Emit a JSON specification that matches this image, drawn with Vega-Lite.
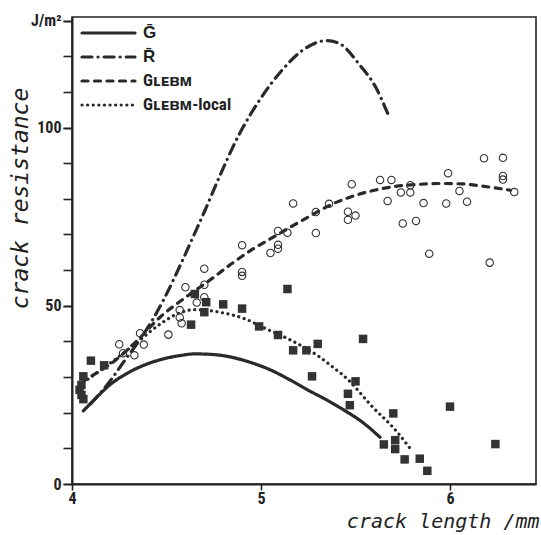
{
  "$schema": "https://vega.github.io/schema/vega-lite/v6.json",
  "width": 464,
  "height": 467,
  "autosize": {"type": "none"},
  "padding": {"left": 72, "top": 17, "right": 5, "bottom": 51},
  "background": "white",
  "config": {
    "view": {"stroke": "#222", "strokeWidth": 1.6},
    "axis": {
      "domainColor": "#222", "domainWidth": 2, "tickColor": "#222", "tickWidth": 1.6, "grid": false,
      "labelColor": "#222", "titleColor": "#222",
      "labelFont": "Liberation Sans Narrow, Roboto Condensed, Roboto, sans-serif", "labelFontWeight": "bold", "labelFontSize": 16,
      "titleFont": "DejaVu Sans Mono", "titleFontStyle": "italic", "titleFontWeight": "normal", "titleFontSize": 21
    }
  },
  "resolve": {"axis": {"y": "independent"}},
  "datasets": {
    "curves": [
      {"series": "G", "x": 4.06, "y": 20.5}, {"series": "G", "x": 4.13, "y": 24.3}, {"series": "G", "x": 4.20, "y": 27.8},
      {"series": "G", "x": 4.30, "y": 31.3}, {"series": "G", "x": 4.40, "y": 33.7}, {"series": "G", "x": 4.50, "y": 35.3},
      {"series": "G", "x": 4.58, "y": 36.1}, {"series": "G", "x": 4.65, "y": 36.5}, {"series": "G", "x": 4.75, "y": 36.3},
      {"series": "G", "x": 4.85, "y": 35.5}, {"series": "G", "x": 4.95, "y": 34.0}, {"series": "G", "x": 5.05, "y": 32.0},
      {"series": "G", "x": 5.15, "y": 29.3}, {"series": "G", "x": 5.25, "y": 26.3}, {"series": "G", "x": 5.35, "y": 23.5},
      {"series": "G", "x": 5.44, "y": 20.7}, {"series": "G", "x": 5.54, "y": 17.2}, {"series": "G", "x": 5.63, "y": 13.1},
      {"series": "R", "x": 4.10, "y": 22.5}, {"series": "R", "x": 4.21, "y": 29.5}, {"series": "R", "x": 4.27, "y": 34.0},
      {"series": "R", "x": 4.35, "y": 39.8}, {"series": "R", "x": 4.42, "y": 45.5}, {"series": "R", "x": 4.48, "y": 51.2},
      {"series": "R", "x": 4.58, "y": 62.2}, {"series": "R", "x": 4.65, "y": 70.4}, {"series": "R", "x": 4.70, "y": 76.3},
      {"series": "R", "x": 4.78, "y": 86.2}, {"series": "R", "x": 4.88, "y": 97.6}, {"series": "R", "x": 4.99, "y": 107.5},
      {"series": "R", "x": 5.11, "y": 116.0}, {"series": "R", "x": 5.24, "y": 122.4}, {"series": "R", "x": 5.35, "y": 124.4},
      {"series": "R", "x": 5.42, "y": 123.4}, {"series": "R", "x": 5.52, "y": 117.7}, {"series": "R", "x": 5.61, "y": 111.0},
      {"series": "R", "x": 5.67, "y": 104.0},
      {"series": "GLEBM", "x": 4.05, "y": 28.5}, {"series": "GLEBM", "x": 4.11, "y": 30.5}, {"series": "GLEBM", "x": 4.21, "y": 33.9},
      {"series": "GLEBM", "x": 4.35, "y": 40.5}, {"series": "GLEBM", "x": 4.47, "y": 47.0}, {"series": "GLEBM", "x": 4.60, "y": 52.3},
      {"series": "GLEBM", "x": 4.74, "y": 57.6}, {"series": "GLEBM", "x": 4.85, "y": 62.0}, {"series": "GLEBM", "x": 4.96, "y": 66.0},
      {"series": "GLEBM", "x": 5.05, "y": 68.8}, {"series": "GLEBM", "x": 5.17, "y": 72.5}, {"series": "GLEBM", "x": 5.28, "y": 75.8},
      {"series": "GLEBM", "x": 5.38, "y": 78.6}, {"series": "GLEBM", "x": 5.49, "y": 80.8}, {"series": "GLEBM", "x": 5.60, "y": 82.4},
      {"series": "GLEBM", "x": 5.70, "y": 83.4}, {"series": "GLEBM", "x": 5.82, "y": 84.0}, {"series": "GLEBM", "x": 5.95, "y": 84.3},
      {"series": "GLEBM", "x": 6.06, "y": 84.2}, {"series": "GLEBM", "x": 6.18, "y": 83.5}, {"series": "GLEBM", "x": 6.32, "y": 82.4},
      {"series": "GLEBMlocal", "x": 4.06, "y": 28.5}, {"series": "GLEBMlocal", "x": 4.14, "y": 31.5}, {"series": "GLEBMlocal", "x": 4.22, "y": 34.6},
      {"series": "GLEBMlocal", "x": 4.35, "y": 40.0}, {"series": "GLEBMlocal", "x": 4.47, "y": 45.0}, {"series": "GLEBMlocal", "x": 4.56, "y": 47.8},
      {"series": "GLEBMlocal", "x": 4.65, "y": 48.9}, {"series": "GLEBMlocal", "x": 4.79, "y": 48.1}, {"series": "GLEBMlocal", "x": 4.93, "y": 46.0},
      {"series": "GLEBMlocal", "x": 5.00, "y": 44.2}, {"series": "GLEBMlocal", "x": 5.14, "y": 40.8}, {"series": "GLEBMlocal", "x": 5.21, "y": 38.9},
      {"series": "GLEBMlocal", "x": 5.30, "y": 36.0}, {"series": "GLEBMlocal", "x": 5.38, "y": 32.8}, {"series": "GLEBMlocal", "x": 5.46, "y": 29.3},
      {"series": "GLEBMlocal", "x": 5.58, "y": 22.2}, {"series": "GLEBMlocal", "x": 5.72, "y": 14.6}, {"series": "GLEBMlocal", "x": 5.80, "y": 9.2}
    ],
    "points": [
      {"kind": "R", "x": 6.18, "y": 91.4}, {"kind": "R", "x": 6.28, "y": 91.5}, {"kind": "R", "x": 6.28, "y": 86.4},
      {"kind": "R", "x": 6.28, "y": 85.4}, {"kind": "R", "x": 5.99, "y": 87.2}, {"kind": "R", "x": 6.34, "y": 81.9},
      {"kind": "R", "x": 5.63, "y": 85.3}, {"kind": "R", "x": 5.69, "y": 85.3}, {"kind": "R", "x": 5.79, "y": 83.8},
      {"kind": "R", "x": 5.74, "y": 81.8}, {"kind": "R", "x": 5.79, "y": 81.8}, {"kind": "R", "x": 6.05, "y": 82.2},
      {"kind": "R", "x": 5.48, "y": 84.1}, {"kind": "R", "x": 5.67, "y": 79.4}, {"kind": "R", "x": 5.86, "y": 78.8},
      {"kind": "R", "x": 5.98, "y": 78.7}, {"kind": "R", "x": 6.09, "y": 79.2}, {"kind": "R", "x": 5.75, "y": 73.1},
      {"kind": "R", "x": 5.82, "y": 73.8}, {"kind": "R", "x": 5.89, "y": 64.6}, {"kind": "R", "x": 6.21, "y": 62.1},
      {"kind": "R", "x": 5.17, "y": 78.7}, {"kind": "R", "x": 5.36, "y": 78.6}, {"kind": "R", "x": 5.29, "y": 76.3},
      {"kind": "R", "x": 5.46, "y": 76.4}, {"kind": "R", "x": 5.46, "y": 74.1}, {"kind": "R", "x": 5.50, "y": 75.3},
      {"kind": "R", "x": 5.09, "y": 71.0}, {"kind": "R", "x": 5.14, "y": 70.5}, {"kind": "R", "x": 5.29, "y": 70.4},
      {"kind": "R", "x": 5.09, "y": 67.1}, {"kind": "R", "x": 5.09, "y": 66.0}, {"kind": "R", "x": 5.05, "y": 64.8},
      {"kind": "R", "x": 4.90, "y": 67.0}, {"kind": "R", "x": 4.70, "y": 60.4}, {"kind": "R", "x": 4.90, "y": 59.5},
      {"kind": "R", "x": 4.90, "y": 58.4}, {"kind": "R", "x": 4.60, "y": 55.2}, {"kind": "R", "x": 4.70, "y": 55.9},
      {"kind": "R", "x": 4.70, "y": 52.4}, {"kind": "R", "x": 4.66, "y": 50.9}, {"kind": "R", "x": 4.57, "y": 48.8},
      {"kind": "R", "x": 4.57, "y": 46.7}, {"kind": "R", "x": 4.58, "y": 45.1}, {"kind": "R", "x": 4.51, "y": 41.9},
      {"kind": "R", "x": 4.36, "y": 42.3}, {"kind": "R", "x": 4.25, "y": 39.2}, {"kind": "R", "x": 4.38, "y": 39.1},
      {"kind": "R", "x": 4.27, "y": 36.7}, {"kind": "R", "x": 4.33, "y": 36.1},
      {"kind": "G", "x": 5.14, "y": 54.7}, {"kind": "G", "x": 4.99, "y": 44.2}, {"kind": "G", "x": 5.09, "y": 41.8},
      {"kind": "G", "x": 5.17, "y": 37.5}, {"kind": "G", "x": 5.24, "y": 37.5}, {"kind": "G", "x": 5.30, "y": 39.3},
      {"kind": "G", "x": 5.54, "y": 40.7}, {"kind": "G", "x": 5.27, "y": 30.2}, {"kind": "G", "x": 5.50, "y": 28.8},
      {"kind": "G", "x": 5.46, "y": 25.3}, {"kind": "G", "x": 5.47, "y": 22.1}, {"kind": "G", "x": 5.70, "y": 19.8},
      {"kind": "G", "x": 6.00, "y": 21.7}, {"kind": "G", "x": 5.65, "y": 11.1}, {"kind": "G", "x": 5.71, "y": 12.3},
      {"kind": "G", "x": 5.71, "y": 9.8}, {"kind": "G", "x": 5.76, "y": 6.9}, {"kind": "G", "x": 5.84, "y": 7.1},
      {"kind": "G", "x": 5.88, "y": 3.7}, {"kind": "G", "x": 6.24, "y": 11.2}, {"kind": "G", "x": 4.65, "y": 53.3},
      {"kind": "G", "x": 4.71, "y": 51.0}, {"kind": "G", "x": 4.70, "y": 48.2}, {"kind": "G", "x": 4.63, "y": 44.7},
      {"kind": "G", "x": 4.80, "y": 50.4}, {"kind": "G", "x": 4.90, "y": 49.2}, {"kind": "G", "x": 4.10, "y": 34.6},
      {"kind": "G", "x": 4.17, "y": 33.3}, {"kind": "G", "x": 4.06, "y": 30.2}, {"kind": "G", "x": 4.05, "y": 27.8},
      {"kind": "G", "x": 4.04, "y": 26.4}, {"kind": "G", "x": 4.05, "y": 25.0}, {"kind": "G", "x": 4.06, "y": 23.8}
    ]
  },
  "layer": [
    {
      "data": {"name": "curves"},
      "mark": {"type": "line", "interpolate": "monotone", "strokeWidth": 3.2, "color": "#2a2a2a", "strokeCap": "round"},
      "encoding": {
        "x": {
          "field": "x", "type": "quantitative",
          "scale": {"domain": [4, 6.455], "nice": false, "zero": false},
          "axis": {
            "values": [4, 5, 6], "format": "d", "title": "crack length /mm", "tickSize": 6, "labelPadding": 0, "labelFlush": false,
            "labelOverlap": false, "labelFontSize": 16, "titleFontSize": 20,
            "titleAnchor": "end", "titleAlign": "right", "titleX": 467, "titleY": 43, "titleBaseline": "alphabetic"
          }
        },
        "y": {
          "field": "y", "type": "quantitative",
          "scale": {"domain": [0, 131], "nice": false},
          "axis": {
            "orient": "left",
            "values": [0, 10, 20, 30, 40, 50, 60, 70, 80, 90, 100, 110, 120, 130],
            "labels": false,
            "tickSize": 9, "title": "crack resistance", "titleFontSize": 23,
            "titleX": -45, "titleY": 181, "titleBaseline": "alphabetic", "titleAngle": 270
          }
        },
        "strokeDash": {
          "field": "series", "type": "nominal",
          "scale": {"domain": ["G", "R", "GLEBM", "GLEBMlocal"], "range": [[1, 0], [10, 6, 0.1, 6], [6, 6.5], [0.1, 5.5]]},
          "legend": {
            "orient": "top-left", "offset": 8, "title": null, "symbolType": "stroke", "symbolSize": 2809,
            "symbolStrokeWidth": 3.2, "symbolStrokeColor": "#2a2a2a", "clipHeight": 16,
            "labelFont": "Liberation Sans Narrow, Roboto Condensed, Roboto, sans-serif", "labelFontWeight": "bold",
            "labelFontSize": 17, "labelColor": "#222", "labelOffset": 6, "rowPadding": 7, "padding": 0,
            "labelExpr": "datum.value == 'G' ? '\u1e20' : datum.value == 'R' ? 'R\u0304' : datum.value == 'GLEBM' ? 'G\u029f\u1d07\u0299\u1d0d' : 'G\u029f\u1d07\u0299\u1d0d-local'",
            "encode": {"symbols": {"update": {"strokeCap": {"value": "round"}}}}
          }
        }
      }
    },
    {
      "data": {"name": "points"},
      "transform": [{"filter": "datum.kind == 'R'"}],
      "mark": {"type": "point", "shape": "circle", "filled": false, "size": 55, "strokeWidth": 1.1, "color": "#333", "opacity": 1},
      "encoding": {
        "x": {"field": "x", "type": "quantitative"},
        "y": {
          "field": "y", "type": "quantitative",
          "axis": {
            "orient": "left", "offset": 0,
            "values": [0, 50, 100, 130], "format": "d",
            "labelOverlap": false,
            "labelExpr": "datum.value == 130 ? 'J/m\u00b2' : datum.label",
            "domain": false, "tickSize": 9, "labelPadding": 2, "title": null
          }
        }
      }
    },
    {
      "data": {"name": "points"},
      "transform": [{"filter": "datum.kind == 'G'"}],
      "mark": {"type": "point", "shape": "square", "filled": true, "size": 72, "color": "#333", "opacity": 1},
      "encoding": {
        "x": {"field": "x", "type": "quantitative"},
        "y": {"field": "y", "type": "quantitative", "axis": null}
      }
    }
  ]
}
